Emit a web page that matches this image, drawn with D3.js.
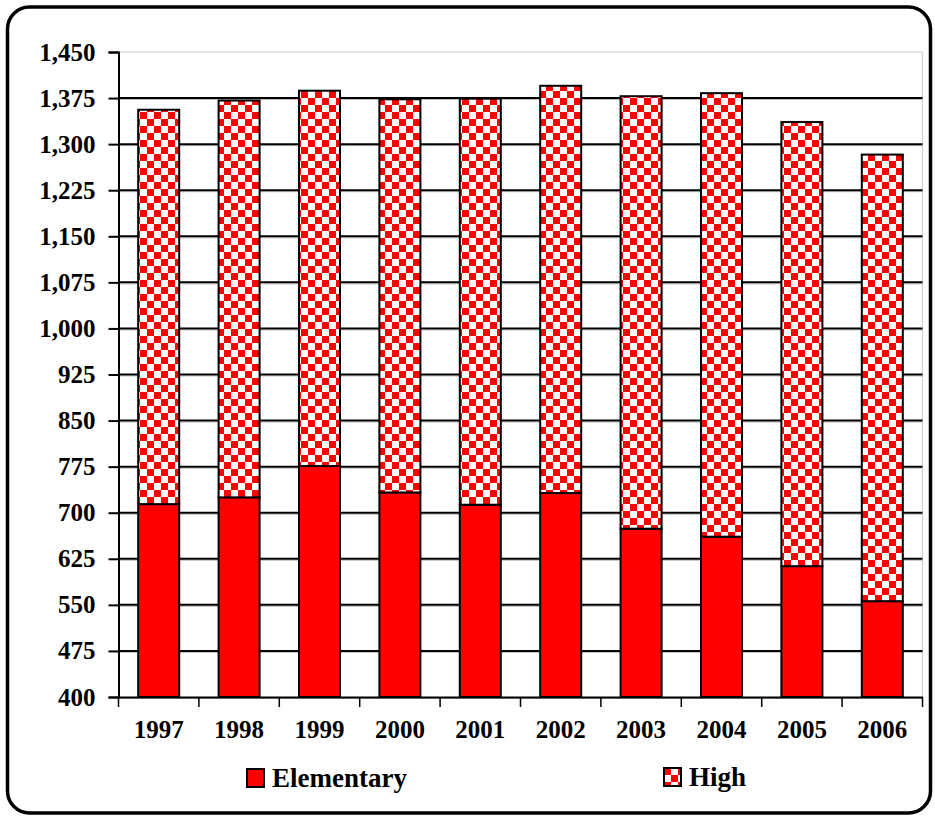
<!DOCTYPE html>
<html>
<head>
<meta charset="utf-8">
<script src="https://cdn.jsdelivr.net/npm/d3@7"></script>
<style>
  html, body { margin: 0; padding: 0; background: #fff; }
  svg { display: block; }
  text { font-family: "Liberation Serif", "Times New Roman", serif; font-weight: bold; fill: #000; }
</style>
</head>
<body>
<svg id="chart" width="935" height="816"></svg>
<script>
// Enrollment by school level, stacked per year
const years = ["1997", "1998", "1999", "2000", "2001", "2002", "2003", "2004", "2005", "2006"];
const elementary = [714, 725, 776, 733, 713, 732, 674, 661, 613, 556];
const high = [642, 646, 611, 640, 661, 663, 704, 722, 723, 727];
const yTicks = [400, 475, 550, 625, 700, 775, 850, 925, 1000, 1075, 1150, 1225, 1300, 1375, 1450];
const seriesNames = ["Elementary", "High"];

const rows = years.map((y, i) => ({ year: y, Elementary: elementary[i], High: high[i] }));

const svg = d3.select("#chart");
const plot = { left: 118.5, right: 922.5, top: 52, bottom: 697 };

// checkerboard fill for the upper segment
const defs = svg.append("defs");
const cell = 7;
const pat = defs.append("pattern")
  .attr("id", "checker")
  .attr("patternUnits", "userSpaceOnUse")
  .attr("width", cell * 2).attr("height", cell * 2);
pat.append("rect").attr("width", cell * 2).attr("height", cell * 2).attr("fill", "#fff");
pat.append("rect").attr("x", 0).attr("y", 0).attr("width", cell).attr("height", cell).attr("fill", "#ff0000");
pat.append("rect").attr("x", cell).attr("y", cell).attr("width", cell).attr("height", cell).attr("fill", "#ff0000");

const fills = { Elementary: "#ff0000", High: "url(#checker)" };

// outer rounded frame
svg.append("rect")
  .attr("x", 7.5).attr("y", 7).attr("width", 923).attr("height", 806)
  .attr("rx", 22).attr("ry", 22)
  .attr("fill", "#fff").attr("stroke", "#000").attr("stroke-width", 3.5);

const x = d3.scaleBand()
  .domain(years)
  .range([plot.left, plot.right])
  .paddingInner(0.49)
  .paddingOuter(0.245);

// axis starts at 400, so the stack base is clamped to the bottom of the plot
const y = d3.scaleLinear()
  .domain([400, 1450])
  .range([plot.bottom, plot.top])
  .clamp(true);

// plot-area border (light)
svg.append("line")
  .attr("x1", plot.left + 2).attr("x2", plot.right)
  .attr("y1", y(1450)).attr("y2", y(1450))
  .attr("stroke", "#d0d0d0").attr("stroke-width", 1.2);
svg.append("line")
  .attr("x1", plot.right).attr("x2", plot.right)
  .attr("y1", y(1450)).attr("y2", y(400))
  .attr("stroke", "#d0d0d0").attr("stroke-width", 1.2);

// horizontal gridlines with a faint drop shade
const gridVals = yTicks.filter(v => v > 400 && v < 1450);
const grid = svg.append("g");
grid.selectAll("line.shade").data(gridVals).join("line")
  .attr("class", "shade")
  .attr("x1", plot.left).attr("x2", plot.right)
  .attr("y1", d => y(d) + 1.5).attr("y2", d => y(d) + 1.5)
  .attr("stroke", "#bdbdbd").attr("stroke-width", 1);
grid.selectAll("line.main").data(gridVals).join("line")
  .attr("class", "main")
  .attr("x1", plot.left).attr("x2", plot.right)
  .attr("y1", d => y(d)).attr("y2", d => y(d))
  .attr("stroke", "#000").attr("stroke-width", 2);

// stacked bars
const stacked = d3.stack().keys(seriesNames)(rows);
svg.append("g").selectAll("g").data(stacked).join("g")
  .attr("fill", d => fills[d.key])
  .selectAll("rect").data(d => d).join("rect")
  .attr("x", d => x(d.data.year))
  .attr("width", x.bandwidth())
  .attr("y", d => y(d[1]))
  .attr("height", d => y(d[0]) - y(d[1]))
  .attr("stroke", "#000")
  .attr("stroke-width", 2);

// y axis
const yAxis = svg.append("g")
  .attr("transform", `translate(${plot.left},0)`)
  .call(d3.axisLeft(y).tickValues(yTicks).tickSize(10).tickPadding(13).tickFormat(d3.format(",")));
yAxis.select(".domain").attr("stroke", "#000").attr("stroke-width", 2);
yAxis.selectAll(".tick line").attr("stroke", "#000").attr("stroke-width", 2);
yAxis.selectAll(".tick text")
  .style("font-family", '"Liberation Serif", "Times New Roman", serif')
  .style("font-weight", "bold").style("font-size", "25px").attr("fill", "#000");

// x axis: labels centred under bars, ticks on category boundaries
svg.append("line")
  .attr("x1", plot.left).attr("x2", plot.right)
  .attr("y1", y(400) + 1.5).attr("y2", y(400) + 1.5)
  .attr("stroke", "#bdbdbd").attr("stroke-width", 1);
const xAxis = svg.append("g")
  .attr("transform", `translate(0,${y(400)})`)
  .call(d3.axisBottom(x).tickSize(0).tickPadding(23));
xAxis.select(".domain").attr("stroke", "#000").attr("stroke-width", 2);
xAxis.selectAll(".tick text")
  .style("font-family", '"Liberation Serif", "Times New Roman", serif')
  .style("font-weight", "bold").style("font-size", "25px").attr("fill", "#000");

const half = (x.step() - x.bandwidth()) / 2;
const bounds = years.map(d => x(d) - half).concat([x(years[years.length - 1]) + x.bandwidth() + half]);
svg.append("g").selectAll("line").data(bounds).join("line")
  .attr("x1", d => d).attr("x2", d => d)
  .attr("y1", y(400)).attr("y2", y(400) + 10)
  .attr("stroke", "#000").attr("stroke-width", 1.5);

// legend
const legendPos = [{ x: 247, y: 769 }, { x: 664, y: 768 }];
const leg = svg.append("g").selectAll("g.legend-item").data(seriesNames).join("g")
  .attr("class", "legend-item")
  .attr("transform", (d, i) => `translate(${legendPos[i].x},${legendPos[i].y})`);
leg.append("rect")
  .attr("width", 17).attr("height", 18)
  .attr("fill", d => fills[d])
  .attr("stroke", "#000").attr("stroke-width", 2);
leg.append("text")
  .attr("x", 25).attr("y", 17.5)
  .style("font-size", "27px")
  .text(d => d);
</script>
</body>
</html>
